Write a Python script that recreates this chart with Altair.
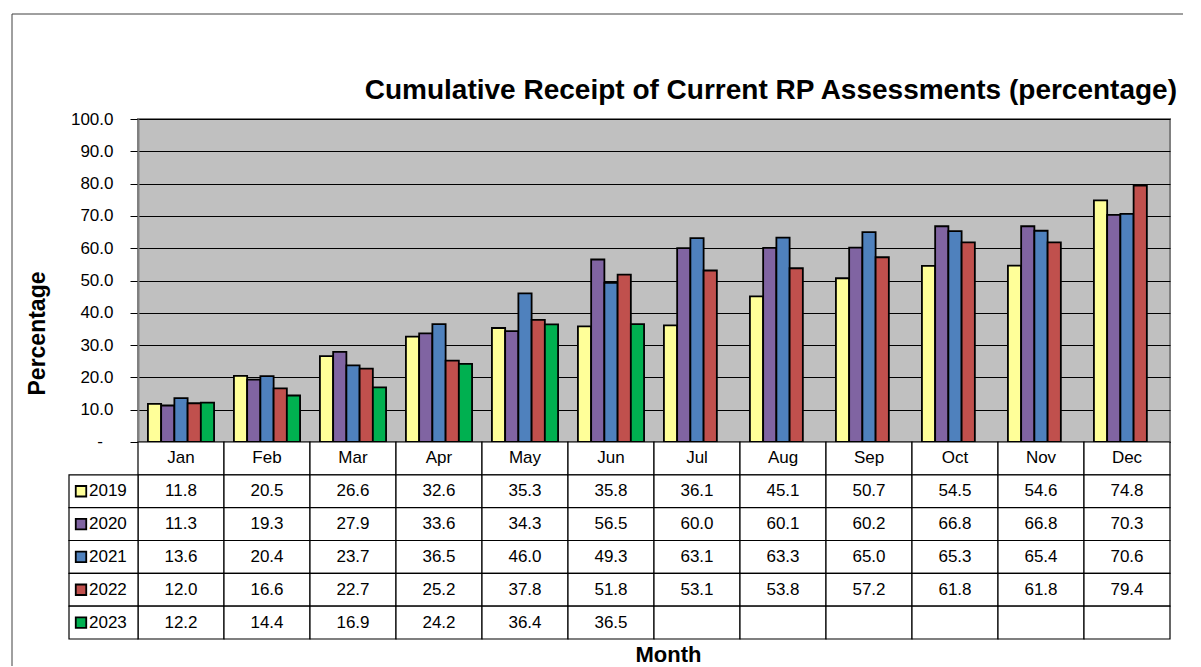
import altair as alt
import pandas as pd

months = ["Jan", "Feb", "Mar", "Apr", "May", "Jun", "Jul", "Aug", "Sep", "Oct", "Nov", "Dec"]
years = ["2019", "2020", "2021", "2022", "2023"]
v2019 = [11.8, 20.5, 26.6, 32.6, 35.3, 35.8, 36.1, 45.1, 50.7, 54.5, 54.6, 74.8]
v2020 = [11.3, 19.3, 27.9, 33.6, 34.3, 56.5, 60.0, 60.1, 60.2, 66.8, 66.8, 70.3]
v2021 = [13.6, 20.4, 23.7, 36.5, 46.0, 49.3, 63.1, 63.3, 65.0, 65.3, 65.4, 70.6]
v2022 = [12.0, 16.6, 22.7, 25.2, 37.8, 51.8, 53.1, 53.8, 57.2, 61.8, 61.8, 79.4]
v2023 = [12.2, 14.4, 16.9, 24.2, 36.4, 36.5]
colors = ["#FFFF99", "#8064A2", "#4F81BD", "#C0504D", "#00B050"]
title_text = "Cumulative Receipt of Current RP Assessments (percentage)"

series = dict(zip(years, [v2019, v2020, v2021, v2022, v2023]))

rows = []
for y, vals in series.items():
    for m, v in zip(months, vals):
        rows.append({"month": m, "year": y, "value": v})
df = pd.DataFrame(rows)

cells = []
for m in months:
    cells.append({"month": m, "row": "Month", "label": m})
    for y in years:
        vals = series[y]
        i = months.index(m)
        lab = f"{vals[i]:.1f}" if i < len(vals) else ""
        cells.append({"month": m, "row": y, "label": lab})
cells_df = pd.DataFrame(cells)
legend_df = pd.DataFrame({"row": years})

FONT = "Liberation Sans, Arial"
W, H, TH = 1032, 323, 197
row_order = ["Month"] + years

color_scale = alt.Scale(domain=years, range=colors)
y_scale = alt.Scale(domain=[0, 100])
y_axis = alt.Axis(values=list(range(0, 101, 10)),
                  labelExpr="datum.value == 0 ? '' : format(datum.value, '.1f')",
                  grid=True, gridColor="black", gridWidth=1,
                  tickColor="black", tickSize=8, labelPadding=17,
                  labelFont=FONT, labelFontSize=17, labelColor="black",
                  domainColor="#808080", domainWidth=2,
                  title="Percentage", titleFont=FONT, titleFontSize=23,
                  titleFontWeight="bold", titleColor="black",
                  titleX=-101, titleY=214, titleAngle=-90,
                  titleAlign="center", titleBaseline="middle")

bars = alt.Chart(df).mark_bar(stroke="black", strokeWidth=1.8).encode(
    x=alt.X("month:N", sort=months,
            scale=alt.Scale(paddingInner=0, paddingOuter=0), axis=None),
    xOffset=alt.XOffset("year:N", sort=years,
                        scale=alt.Scale(paddingInner=0, paddingOuter=0.75)),
    y=alt.Y("value:Q", scale=y_scale, axis=y_axis),
    color=alt.Color("year:N", scale=color_scale, legend=None),
)

zero_dash = alt.Chart(alt.Data(values=[{"value": 0, "t": "-"}])).mark_text(
    font=FONT, fontSize=17, color="black", align="center", baseline="middle").encode(
    x=alt.value(-38), y=alt.Y("value:Q", scale=y_scale, axis=y_axis), text="t:N")

one = alt.Data(values=[{}])
left_top = alt.Chart(one).mark_rule(color="#404040", strokeWidth=1).encode(
    x=alt.value(-126), y=alt.value(-105), y2=alt.value(H))
top_line = alt.Chart(one).mark_rule(color="#404040", strokeWidth=1).encode(
    x=alt.value(-126), x2=alt.value(1045), y=alt.value(-105))
title = alt.Chart(alt.Data(values=[{"t": title_text}])).mark_text(
    font=FONT, fontSize=28, fontWeight="bold", color="black",
    align="right", baseline="alphabetic").encode(
    x=alt.value(W + 7), y=alt.value(-20), text="t:N")

top = alt.layer(bars, zero_dash, left_top, top_line, title).properties(
    width=W, height=H,
    view=alt.ViewBackground(fill="#C0C0C0", stroke="#808080", strokeWidth=2),
)

xt = alt.X("month:N", sort=months, scale=alt.Scale(paddingInner=0, paddingOuter=0),
           axis=alt.Axis(labels=False, ticks=False, domain=False, title="Month",
                         titleFont=FONT, titleFontSize=22, titleFontWeight="bold",
                         titleColor="black", titlePadding=5, titleX=W / 2 + 14))
yt = alt.Y("row:N", sort=row_order, scale=alt.Scale(paddingInner=0, paddingOuter=0),
           axis=None)

cell_rect = alt.Chart(cells_df).mark_rect(fill="white", stroke="black", strokeWidth=1.2).encode(
    x=xt, y=yt)
cell_text = alt.Chart(cells_df).mark_text(font=FONT, fontSize=17, color="black").encode(
    x=xt, y=yt, text="label:N")
leg_rect = alt.Chart(legend_df).mark_rect(fill="white", stroke="black", strokeWidth=1.2).encode(
    x=alt.value(-69), x2=alt.value(0), y=yt)
leg_sq = alt.Chart(legend_df).mark_square(size=110, stroke="black", strokeWidth=1.8, opacity=1).encode(
    x=alt.value(-57), y=yt,
    fill=alt.Fill("row:N", scale=color_scale, legend=None))
leg_txt = alt.Chart(legend_df).mark_text(font=FONT, fontSize=17, color="black", align="left").encode(
    x=alt.value(-49), y=yt, text="row:N")
left_bot = alt.Chart(one).mark_rule(color="#404040", strokeWidth=1).encode(
    x=alt.value(-126), y=alt.value(0), y2=alt.value(TH + 27))

table = alt.layer(cell_rect, cell_text, leg_rect, leg_sq, leg_txt, left_bot).properties(
    width=W, height=TH,
    view=alt.ViewBackground(stroke=None, fill="white"),
)

chart = alt.vconcat(top, table, spacing=0, bounds="flush").properties(
    padding={"left": 2, "top": 4, "right": 0, "bottom": 0},
    background="white",
).resolve_scale(x="independent", color="shared")

chart.save("out.html", embed_options={"renderer": "svg", "actions": False})
